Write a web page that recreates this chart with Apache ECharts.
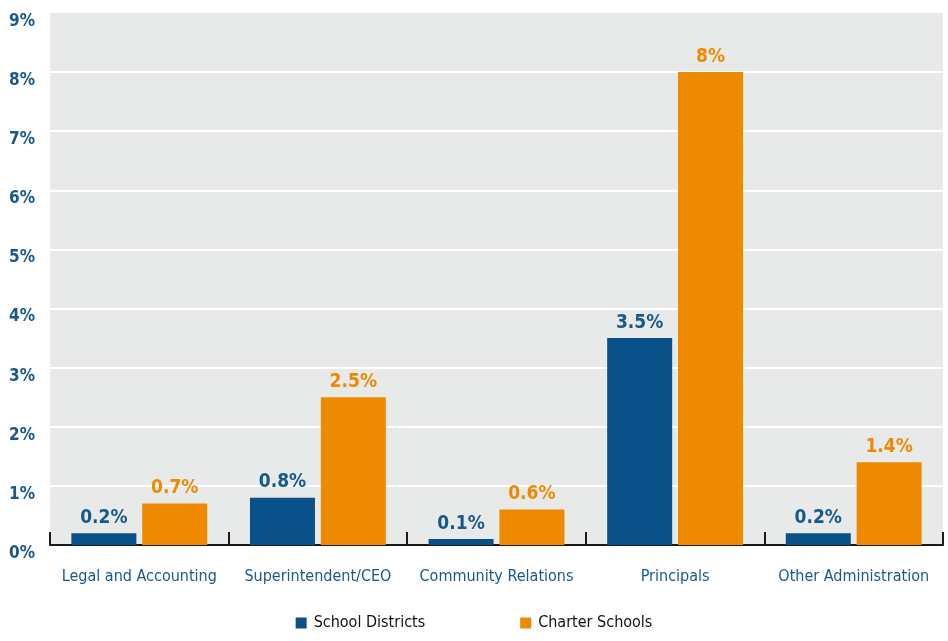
<!DOCTYPE html>
<html>
<head>
<meta charset="utf-8">
<script src="https://cdn.jsdelivr.net/npm/echarts@6/dist/echarts.min.js"></script>
<style>
  html, body { margin: 0; padding: 0; background: #ffffff; }
  #chart { width: 948px; height: 641px; }
</style>
</head>
<body>
<div id="chart"></div>
<script>
// Share of staff in administrative roles, by role type
const categories = ['Legal and Accounting', 'Superintendent/CEO', 'Community Relations', 'Principals', 'Other Administration'];
const schoolDistricts = [0.2, 0.8, 0.1, 3.5, 0.2];
const charterSchools = [0.7, 2.5, 0.6, 8, 1.4];
const seriesNames = ['School Districts', 'Charter Schools'];

const BLUE = '#0b5189';
const ORANGE = '#ef8a00';
const TEXT_BLUE = '#17598c';
const FONT = '"DejaVu Sans Condensed", sans-serif';

const chart = echarts.init(document.getElementById('chart'), null, { renderer: 'canvas' });

function valueLabel(color) {
  return {
    show: true,
    position: 'top',
    distance: 6,
    color: color,
    fontFamily: FONT,
    fontWeight: 'bold',
    fontSize: 19,
    formatter: p => p.value + '%'
  };
}

chart.setOption({
  animation: false,
  backgroundColor: '#ffffff',
  grid: {
    left: 50, right: 5, top: 13, bottom: 96,
    show: true,
    backgroundColor: '#e8e9e9',
    borderWidth: 0
  },
  legend: {
    bottom: 5,
    left: 'center',
    itemGap: 95,
    itemWidth: 11,
    itemHeight: 11,
    icon: 'rect',
    textStyle: { fontFamily: FONT, fontSize: 16, color: '#111111', padding: [0, 0, 0, 2] },
    data: seriesNames
  },
  xAxis: {
    type: 'category',
    data: categories,
    axisLine: { show: true, lineStyle: { color: '#1a1a1a', width: 2 } },
    axisTick: { show: true, inside: true, interval: 0, length: 13, lineStyle: { color: '#1a1a1a', width: 2 } },
    axisLabel: { interval: 0, color: TEXT_BLUE, fontFamily: FONT, fontSize: 16, margin: 24 },
    splitLine: { show: false }
  },
  yAxis: {
    type: 'value',
    min: 0,
    max: 9,
    interval: 1,
    axisLine: { show: false },
    axisTick: { show: false },
    axisLabel: {
      color: TEXT_BLUE, fontFamily: FONT, fontWeight: 'bold', fontSize: 17, margin: 15,
      verticalAlign: 'top',
      formatter: v => v + '%'
    },
    splitLine: { show: true, showMinLine: false, showMaxLine: false, lineStyle: { color: '#ffffff', width: 2 } }
  },
  series: [
    {
      name: seriesNames[0],
      type: 'bar',
      data: schoolDistricts,
      barWidth: 65,
      barGap: '9%',
      itemStyle: { color: BLUE },
      label: valueLabel(TEXT_BLUE)
    },
    {
      name: seriesNames[1],
      type: 'bar',
      data: charterSchools,
      barWidth: 65,
      itemStyle: { color: ORANGE },
      label: valueLabel(ORANGE)
    }
  ]
});
</script>
</body>
</html>
